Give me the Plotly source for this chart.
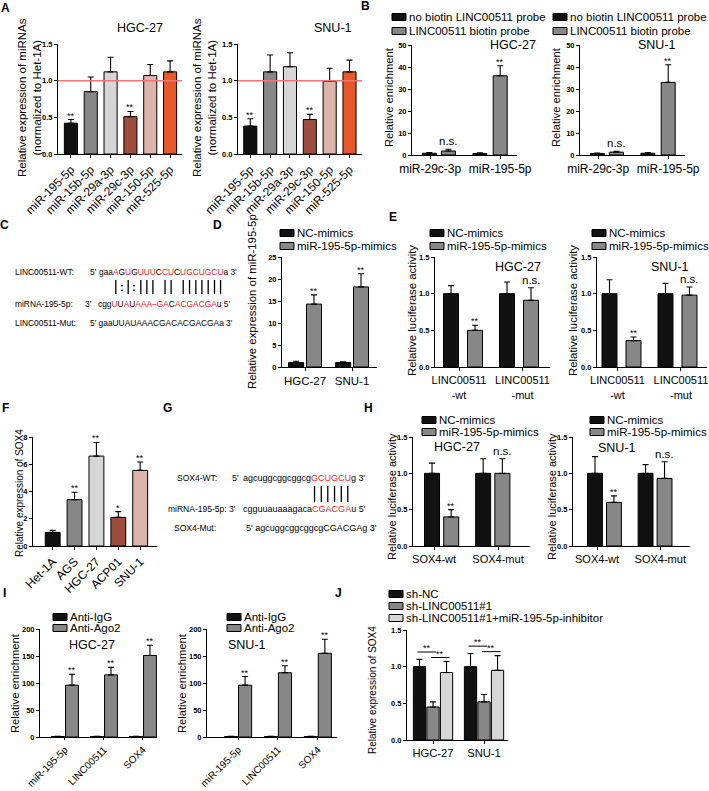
import plotly.graph_objects as go

W, H = 709, 791
FONT = "Liberation Sans, Arial, sans-serif"
BLACK = "#111111"
GRAY = "#878787"
LIGHT = "#d6d6d6"
BROWN = "#9a4e3b"
PINK = "#dcb4a9"
ORANGE = "#e8582a"
RED = "#f0262b"
REDLINE = "#f27474"

# ---------------- data ----------------
a_cats = ["miR-195-5p", "miR-15b-5p", "miR-29a-3p", "miR-29c-3p", "miR-150-5p", "miR-525-5p"]
a_colors = [BLACK, GRAY, LIGHT, BROWN, PINK, ORANGE]
a_hgc_vals = [0.42, 0.85, 1.12, 0.51, 1.07, 1.12]
a_hgc_err = [0.05, 0.20, 0.20, 0.07, 0.15, 0.15]
a_snu_vals = [0.38, 1.12, 1.19, 0.47, 0.99, 1.12]
a_snu_err = [0.10, 0.23, 0.19, 0.07, 0.18, 0.16]
a_sig = ["**", "", "", "**", "", ""]

b_cats = ["miR-29c-3p", "miR-195-5p"]
b_series = ["no biotin LINC00511 probe", "LINC00511 biotin probe"]
b_hgc_nobio = [0.8, 0.7]
b_hgc_nobio_err = [0.3, 0.3]
b_hgc_bio = [1.8, 36.0]
b_hgc_bio_err = [0.8, 4.6]
b_snu_nobio = [0.7, 0.8]
b_snu_nobio_err = [0.2, 0.3]
b_snu_bio = [1.3, 33.0]
b_snu_bio_err = [0.4, 8.0]
b_sig = ["n.s.", "**"]

c_wt_seq = "gaaAGUGUUUCCUCUGCUGCUa"
c_wt_red = "0001010111011011111110"
c_pairs = "   |:|:||| || ||||||| "
c_mir_seq = "cggUUAUAAA\u2013GACACGACGAu"
c_mir_red = "0001010111111011111110"
c_mut_seq = "gaaUUAUAAACGACACGACGAa"

d_cats = ["HGC-27", "SNU-1"]
mim_series = ["NC-mimics", "miR-195-5p-mimics"]
d_nc = [1.0, 1.0]
d_nc_err = [0.3, 0.2]
d_mim = [14.3, 18.2]
d_mim_err = [2.1, 3.0]
d_sig = ["**", "**"]

e_cats = ["LINC00511-wt", "LINC00511-mut"]
e_ticks = ["LINC00511<br>-wt", "LINC00511<br>-mut"]
e_hgc_nc = [1.0, 1.0]
e_hgc_nc_err = [0.11, 0.16]
e_hgc_mim = [0.50, 0.91]
e_hgc_mim_err = [0.07, 0.17]
e_snu_nc = [1.0, 1.0]
e_snu_nc_err = [0.19, 0.14]
e_snu_mim = [0.36, 0.98]
e_snu_mim_err = [0.05, 0.11]
e_sig = ["**", "n.s."]

f_cats = ["Het-1A", "AGS", "HGC-27", "ACP01", "SNU-1"]
f_colors = [BLACK, GRAY, LIGHT, BROWN, PINK]
f_vals = [1.0, 3.4, 6.6, 2.1, 5.55]
f_err = [0.15, 0.55, 1.0, 0.42, 0.62]
f_sig = ["", "**", "**", "*", "**"]

g_wt_seq = "agcuggcggcggcgGCUGCUg"
g_wt_red = "000000000000001111110"
g_pairs = "              ||||||"
g_mir_seq = "cgguuauaaagacaCGACGAu"
g_mir_red = "000000000000001111110"
g_mut_seq = "agcuggcggcggcgCGACGAg"

h_cats = ["SOX4-wt", "SOX4-mut"]
h_hgc_nc = [1.0, 1.0]
h_hgc_nc_err = [0.14, 0.20]
h_hgc_mim = [0.40, 1.0]
h_hgc_mim_err = [0.10, 0.20]
h_snu_nc = [1.0, 1.0]
h_snu_nc_err = [0.23, 0.12]
h_snu_mim = [0.60, 0.93]
h_snu_mim_err = [0.09, 0.23]
h_sig = ["**", "n.s."]

i_cats = ["miR-195-5p", "LINC00511", "SOX4"]
i_series = ["Anti-IgG", "Anti-Ago2"]
i_hgc_igg = [1.0, 1.0, 1.0]
i_hgc_igg_err = [0.3, 0.3, 0.3]
i_hgc_ago = [96, 115, 151]
i_hgc_ago_err = [20, 14, 19]
i_snu_igg = [1.0, 1.0, 1.0]
i_snu_igg_err = [0.3, 0.3, 0.3]
i_snu_ago = [96, 119, 155]
i_snu_ago_err = [16, 13, 26]
i_sig = ["**", "**", "**"]

j_cats = ["HGC-27", "SNU-1"]
j_series = ["sh-NC", "sh-LINC00511#1", "sh-LINC00511#1+miR-195-5p-inhibitor"]
j_nc = [1.0, 1.0]
j_nc_err = [0.10, 0.18]
j_sh = [0.45, 0.52]
j_sh_err = [0.07, 0.10]
j_inh = [0.92, 0.95]
j_inh_err = [0.15, 0.20]

# ---------------- helpers ----------------
def px(x):
    return x / W


def py(y):
    return 1 - y / H


fig = go.Figure()
layout_axes = {}
n_ax = [0]


def new_axes(box, xr, yr, dtick, cats, ticktext=None, tickangle=0, xfont=11.5,
             yfmt=None, xticklen=3):
    n_ax[0] += 1
    n = n_ax[0]
    x0, x1, yt, yb = box
    sfx = "" if n == 1 else str(n)
    xa = dict(domain=[px(x0), px(x1)], anchor="y" + sfx, type="category",
              categoryorder="array", categoryarray=cats, range=list(xr),
              showline=True, linecolor="black", linewidth=1, ticks="outside",
              ticklen=xticklen, tickcolor="black", showgrid=False, zeroline=False,
              tickangle=tickangle, automargin=False,
              tickfont=dict(size=xfont, color="black", family=FONT))
    if ticktext is not None:
        xa.update(tickmode="array", tickvals=cats, ticktext=ticktext)
    ya = dict(domain=[py(yb), py(yt)], anchor="x" + sfx, range=list(yr),
              dtick=dtick, tick0=0, showline=True, linecolor="black",
              linewidth=1, ticks="outside", ticklen=3, tickcolor="black",
              showgrid=False, zeroline=False, automargin=False,
              tickfont=dict(size=7.5, color="black", family=FONT, weight="bold"))
    if yfmt:
        ya["tickformat"] = yfmt
    layout_axes["xaxis" + sfx] = xa
    layout_axes["yaxis" + sfx] = ya
    return ("x" + sfx, "y" + sfx)


def bars(ax, cats, vals, errs, color, offset, width):
    fig.add_trace(go.Bar(
        x=cats, y=vals, xaxis=ax[0], yaxis=ax[1], offset=offset, width=width,
        marker=dict(color=color, line=dict(color="black", width=1)),
        error_y=dict(type="data", symmetric=False, array=errs,
                     arrayminus=[0] * len(vals), color="black",
                     thickness=1.1, width=3),
        showlegend=False, hoverinfo="skip"))


def stars(ax, vals, errs, sig, dx):
    for i, (v, e, s) in enumerate(zip(vals, errs, sig)):
        if not s:
            continue
        d = dx[i] if isinstance(dx, (list, tuple)) else dx
        is_star = s.startswith("*")
        fig.add_annotation(x=i + d, y=v + e, xref=ax[0], yref=ax[1], text=s,
                           showarrow=False, yanchor="bottom",
                           yshift=-3 if is_star else 0,
                           font=dict(size=9 if is_star else 11.5,
                                     color="black", family=FONT))


def text(x, y, s, size=11.5, anchor="center", angle=0, bold=False, color="black"):
    fig.add_annotation(x=px(x), y=py(y), xref="paper", yref="paper", text=s,
                       showarrow=False, xanchor=anchor, yanchor="middle",
                       textangle=angle,
                       font=dict(size=size, color=color, family=FONT,
                                 weight="bold" if bold else "normal"))


def legend(x, ys, labels, colors, size=11.5):
    for y, lab, col in zip(ys, labels, colors):
        fig.add_shape(type="rect", xref="paper", yref="paper",
                      x0=px(x), x1=px(x + 14), y0=py(y + 3.5), y1=py(y - 3.5),
                      fillcolor=col, line=dict(color="black", width=1))
        text(x + 15, y, lab, size=size, anchor="left")


def colored(seq, mask):
    out = []
    for ch, m in zip(seq, mask):
        out.append('<span style="color:%s">%s</span>' % (RED, ch) if m == "1" else ch)
    return "".join(out)


ARIAL_W = {"a": 556, "c": 500, "g": 556, "u": 556, "A": 667, "C": 722,
           "G": 778, "U": 722, " ": 278, "'": 191, "\u2013": 556}


def pair_marks(seq, pairs, x_start, size, y_top, y_bot):
    x = x_start + 2
    for ch, p in zip(seq, pairs):
        w = ARIAL_W.get(ch, 556) * size / 1000
        cx = x + w / 2
        if p == "|":
            fig.add_shape(type="line", xref="paper", yref="paper",
                          x0=px(cx), x1=px(cx), y0=py(y_top), y1=py(y_bot),
                          line=dict(color="black", width=1.3))
        elif p == ":":
            text(cx, (y_top + y_bot) / 2, ":", size=size + 3, bold=True)
        x += w


# ---------------- panel A ----------------
text(5, 8, "A", 12, bold=True)
ax = new_axes((58, 182, 44, 154), (-0.65, 5.6), (0, 1.5), 0.5, a_cats, tickangle=-45, xfont=12, yfmt=".1f")
bars(ax, a_cats, a_hgc_vals, a_hgc_err, a_colors, -0.33, 0.66)
stars(ax, a_hgc_vals, a_hgc_err, a_sig, 0)
fig.add_shape(type="line", xref=ax[0] + " domain", yref=ax[1], x0=0, x1=1, y0=1, y1=1,
              line=dict(color=REDLINE, width=1.5))
text(140, 28, "HGC-27", 12.5)
text(30, 98, "Relative expression of miRNAs<br>(normalized to Het-1A)", 11.5, angle=-90)

ax = new_axes((238, 362, 44, 154), (-0.62, 5.63), (0, 1.5), 0.5, a_cats, tickangle=-45, xfont=12, yfmt=".1f")
bars(ax, a_cats, a_snu_vals, a_snu_err, a_colors, -0.33, 0.66)
stars(ax, a_snu_vals, a_snu_err, a_sig, 0)
fig.add_shape(type="line", xref=ax[0] + " domain", yref=ax[1], x0=0, x1=1, y0=1, y1=1,
              line=dict(color=REDLINE, width=1.5))
text(333, 28, "SNU-1", 12.5)
text(205, 98, "Relative expression of miRNAs<br>(normalized to Het-1A)", 11.5, angle=-90)

# ---------------- panel B ----------------
text(365, 6, "B", 12, bold=True)
b_black_off = [-0.114, -0.39]
b_gray_off = [0.16, -0.10]
ax = new_axes((412, 517, 45, 155), (-0.26, 1.24), (0, 50), 10, b_cats, xfont=12)
bars(ax, b_cats, b_hgc_nobio, b_hgc_nobio_err, BLACK, b_black_off, 0.2)
bars(ax, b_cats, b_hgc_bio, b_hgc_bio_err, GRAY, b_gray_off, 0.2)
stars(ax, b_hgc_bio, b_hgc_bio_err, b_sig, [o + 0.1 for o in b_gray_off])
text(513, 45, "HGC-27", 12.5)
text(389, 97, "Relative enrichment", 11.2, angle=-90)
legend(392, [17, 31], b_series, [BLACK, GRAY])

ax = new_axes((580, 685, 45, 155), (-0.26, 1.24), (0, 50), 10, b_cats, xfont=12)
bars(ax, b_cats, b_snu_nobio, b_snu_nobio_err, BLACK, b_black_off, 0.2)
bars(ax, b_cats, b_snu_bio, b_snu_bio_err, GRAY, b_gray_off, 0.2)
stars(ax, b_snu_bio, b_snu_bio_err, b_sig, [o + 0.1 for o in b_gray_off])
text(657, 45, "SNU-1", 12.5)
text(556, 97, "Relative enrichment", 11.2, angle=-90)
legend(553, [17, 31], b_series, [BLACK, GRAY])

# ---------------- panel C ----------------
text(4, 225, "C", 12, bold=True)
CS = 8.4
text(13, 272, "LINC00511-WT:", CS, anchor="left")
text(88, 272, "5'", CS, anchor="left")
text(97, 272, colored(c_wt_seq, c_wt_red) + " 3'", CS, anchor="left")
pair_marks(c_wt_seq, c_pairs, 97, CS, 280, 294)
text(13, 304, "miRNA-195-5p:", CS, anchor="left")
text(83, 304, "3'", CS, anchor="left")
text(96, 304, colored(c_mir_seq, c_mir_red) + " 5'", CS, anchor="left")
text(13, 323, "LINC00511-Mut:", CS, anchor="left")
text(88, 323, "5' " + c_mut_seq + " 3'", CS, anchor="left")

# ---------------- panel D ----------------
text(217, 225, "D", 12, bold=True)
ax = new_axes((282, 377, 257, 367), (-0.49, 1.53), (0, 25), 5, d_cats)
bars(ax, d_cats, d_nc, d_nc_err, BLACK, -0.35, 0.32)
bars(ax, d_cats, d_mim, d_mim_err, GRAY, 0.03, 0.32)
stars(ax, d_mim, d_mim_err, d_sig, 0.19)
text(252, 302, "Relative expression of miR-195-5p", 11.4, angle=-90)
legend(280, [233, 246], mim_series, [BLACK, GRAY])

# ---------------- panel E ----------------
text(393, 217, "E", 12, bold=True)
e_black_off = [-0.244, -0.362]
e_gray_off = [0.134, 0.016]
e_w = 0.236
ax = new_axes((435, 550, 257, 367), (-0.378, 1.433), (0, 1.5), 0.5, e_cats, ticktext=e_ticks, xfont=11, yfmt=".1f")
bars(ax, e_cats, e_hgc_nc, e_hgc_nc_err, BLACK, e_black_off, e_w)
bars(ax, e_cats, e_hgc_mim, e_hgc_mim_err, GRAY, e_gray_off, e_w)
stars(ax, e_hgc_mim, e_hgc_mim_err, e_sig, [o + e_w / 2 for o in e_gray_off])
text(518, 267, "HGC-27", 12.5)
text(412, 311, "Relative luciferase activity", 11.4, angle=-90)
legend(430, [233, 246], mim_series, [BLACK, GRAY])

ax = new_axes((597, 707, 257, 367), (-0.323, 1.41), (0, 1.5), 0.5, e_cats, ticktext=e_ticks, xfont=11, yfmt=".1f")
bars(ax, e_cats, e_snu_nc, e_snu_nc_err, BLACK, e_black_off, e_w)
bars(ax, e_cats, e_snu_mim, e_snu_mim_err, GRAY, e_gray_off, e_w)
stars(ax, e_snu_mim, e_snu_mim_err, e_sig, [o + e_w / 2 for o in e_gray_off])
text(670, 267, "SNU-1", 12.5)
text(573, 311, "Relative luciferase activity", 11.4, angle=-90)
legend(592, [233, 246], mim_series, [BLACK, GRAY])

# ---------------- panel F ----------------
text(5, 408, "F", 12, bold=True)
ax = new_axes((33, 157, 437, 546), (-0.9, 4.77), (0, 8), 2, f_cats, tickangle=-45, xfont=12)
bars(ax, f_cats, f_vals, f_err, f_colors, -0.34, 0.68)
stars(ax, f_vals, f_err, f_sig, 0)
text(19, 493, "Relative expression of SOX4", 10, angle=-90)

# ---------------- panel G ----------------
text(167, 408, "G", 12, bold=True)
GS = 9
GL = 8.5
text(175, 478, "SOX4-WT:", GL, anchor="left")
text(230, 478, "5'", GS, anchor="left")
text(241, 478, colored(g_wt_seq, g_wt_red) + " 3'", GS, anchor="left")
pair_marks(g_wt_seq, g_pairs, 241, GS, 486, 502)
text(166, 509, "miRNA-195-5p: 3'", GL, anchor="left")
text(241, 509, colored(g_mir_seq, g_mir_red) + " 5'", GS, anchor="left")
text(172, 528, "SOX4-Mut:", GL, anchor="left")
text(244, 528, "5' " + g_mut_seq + " 3'", GS, anchor="left")

# ---------------- panel H ----------------
text(368, 408, "H", 12, bold=True)
h_black_off = [-0.15, -0.35]
h_gray_off = [0.15, -0.05]
h_w = 0.235
ax = new_axes((413, 530, 437, 546), (-0.33, 1.5), (0, 1.5), 0.5, h_cats, xfont=11, yfmt=".1f")
bars(ax, h_cats, h_hgc_nc, h_hgc_nc_err, BLACK, h_black_off, h_w)
bars(ax, h_cats, h_hgc_mim, h_hgc_mim_err, GRAY, h_gray_off, h_w)
stars(ax, h_hgc_mim, h_hgc_mim_err, h_sig, [o + h_w / 2 for o in h_gray_off])
text(457, 447, "HGC-27", 12.5)
text(392, 497, "Relative luciferase activity", 11, angle=-90)
legend(422, [420, 432], mim_series, [BLACK, GRAY])

ax = new_axes((573, 690, 437, 546), (-0.38, 1.47), (0, 1.5), 0.5, h_cats, xfont=11, yfmt=".1f")
bars(ax, h_cats, h_snu_nc, h_snu_nc_err, BLACK, h_black_off, h_w)
bars(ax, h_cats, h_snu_mim, h_snu_mim_err, GRAY, h_gray_off, h_w)
stars(ax, h_snu_mim, h_snu_mim_err, h_sig, [o + h_w / 2 for o in h_gray_off])
text(617, 448, "SNU-1", 12.5)
text(552, 497, "Relative luciferase activity", 11, angle=-90)
legend(590, [420, 432], mim_series, [BLACK, GRAY])

# ---------------- panel I ----------------
text(4, 593, "I", 12, bold=True)
ax = new_axes((40, 157, 629, 737), (-0.64, 2.36), (0, 200), 50, i_cats, tickangle=-45,
              xfont=10, xticklen=2)
bars(ax, i_cats, i_hgc_igg, i_hgc_igg_err, BLACK, -0.345, 0.33)
bars(ax, i_cats, i_hgc_ago, i_hgc_ago_err, GRAY, 0.015, 0.33)
stars(ax, i_hgc_ago, i_hgc_ago_err, i_sig, 0.18)
text(92, 645, "HGC-27", 12.5)
text(15, 683, "Relative enrichment", 11.2, angle=-90)
legend(53, [617, 628], i_series, [BLACK, GRAY])

ax = new_axes((207, 337, 629, 737), (-0.78, 2.48), (0, 200), 50, i_cats, tickangle=-45,
              xfont=10, xticklen=2)
bars(ax, i_cats, i_snu_igg, i_snu_igg_err, BLACK, -0.34, 0.33)
bars(ax, i_cats, i_snu_ago, i_snu_ago_err, GRAY, 0.01, 0.33)
stars(ax, i_snu_ago, i_snu_ago_err, i_sig, 0.175)
text(247, 645, "SNU-1", 12.5)
text(182, 683, "Relative enrichment", 11.2, angle=-90)
legend(227, [617, 628], i_series, [BLACK, GRAY])

# ---------------- panel J ----------------
text(338, 593, "J", 12, bold=True)
ax = new_axes((407, 508, 630, 740), (-0.51, 1.47), (0, 1.5), 0.5, j_cats, xfont=11.2, yfmt=".1f")
j_centers = [-0.265, 0.0, 0.265]
j_w = 0.24
for vals, errs, col, c in zip([j_nc, j_sh, j_inh], [j_nc_err, j_sh_err, j_inh_err],
                               [BLACK, GRAY, LIGHT], j_centers):
    bars(ax, j_cats, vals, errs, col, c - j_w / 2, j_w)
for i in range(len(j_cats)):
    tops = [j_nc[i] + j_nc_err[i], j_sh[i] + j_sh_err[i], j_inh[i] + j_inh_err[i]]
    y1 = max(tops) + 0.1
    y2 = y1 - 0.075
    for (a, b), yy in [((0, 1), y1), ((1, 2), y2)]:
        xa0 = i + j_centers[a] - 0.04
        xa1 = i + j_centers[b] + 0.06
        fig.add_shape(type="line", xref=ax[0], yref=ax[1], x0=xa0, x1=xa1, y0=yy, y1=yy,
                      line=dict(color="black", width=1))
        fig.add_annotation(x=(xa0 + xa1) / 2, y=yy, xref=ax[0], yref=ax[1], text="**",
                           showarrow=False, yanchor="bottom", yshift=-3,
                           font=dict(size=9, color="black", family=FONT))
text(372, 690, "Relative expression of SOX4", 10, angle=-90)
legend(389, [594, 606, 618], j_series, [BLACK, GRAY, LIGHT])

fig.update_layout(**layout_axes)
fig.update_layout(width=W, height=H, autosize=False,
                  margin=dict(l=0, r=0, t=0, b=0, pad=0, autoexpand=False),
                  plot_bgcolor="white", paper_bgcolor="white",
                  showlegend=False, barmode="overlay",
                  font=dict(family=FONT, color="black"))

fig.write_html("out.html", config={"displayModeBar": False},
               post_script="document.body.style.margin='0';")
